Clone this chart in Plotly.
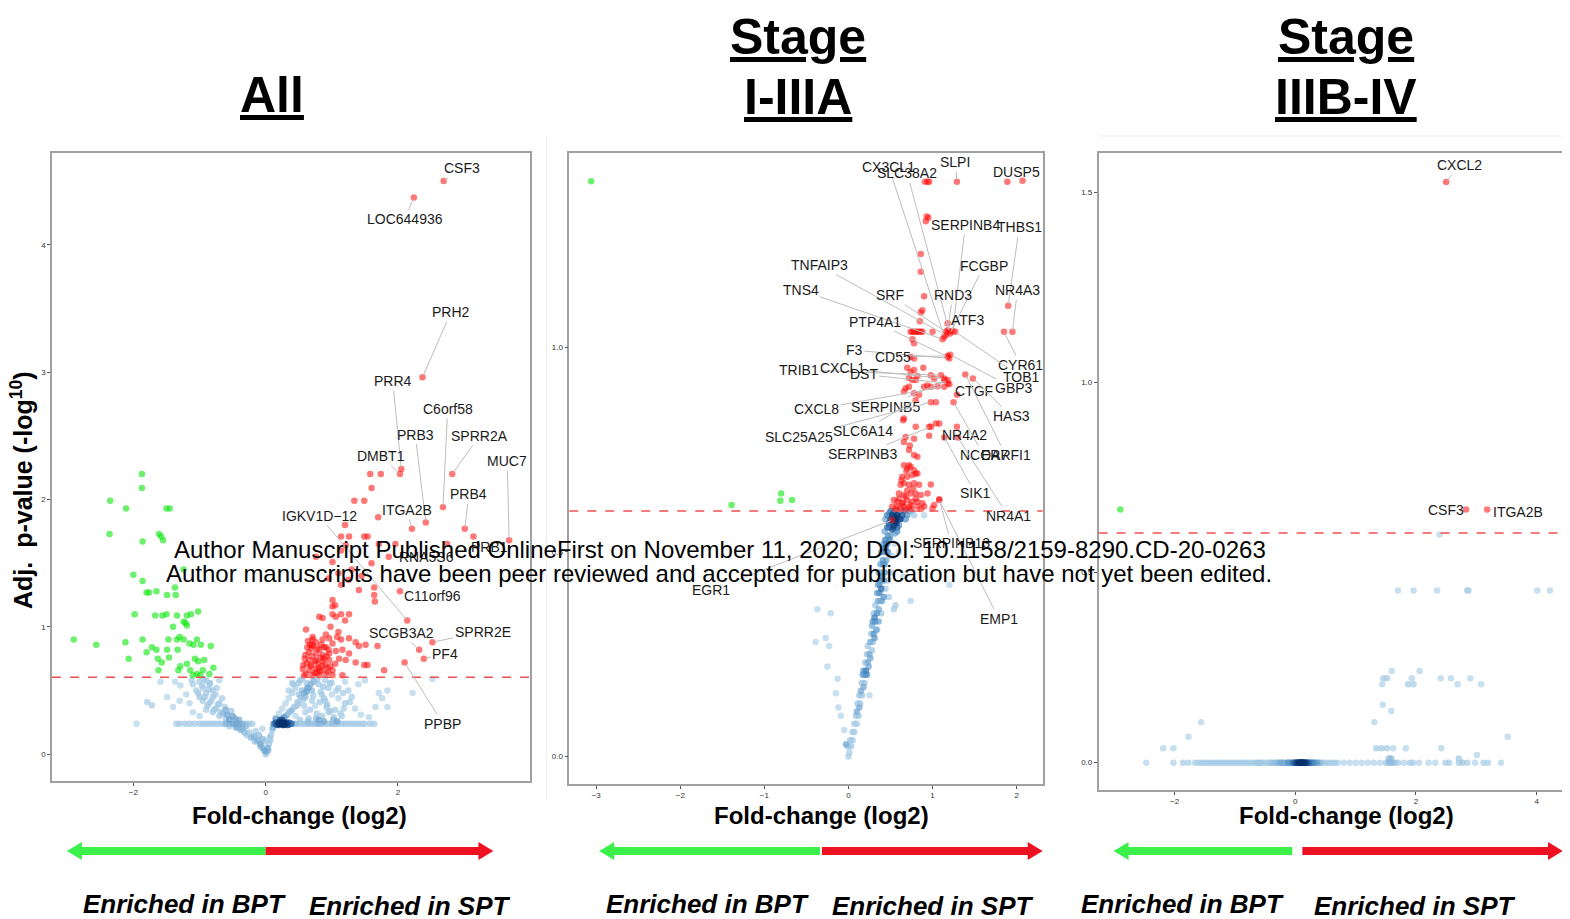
import numpy as np
import plotly.graph_objects as go

# page body has an 8px margin: the figure is shifted by that much
OFF = 8
W, H = 1570 - OFF, 919 - OFF

# ===================== DATA =====================
# ---- Panel 1: All ----
p1_threshold = 0.605
p1_green_x = [-1.87,-1.87,-2.35,-2.11,-1.50,-1.45,-2.36,-1.86,-1.61,-1.58,-1.55,-2.00,-1.86,-1.24,-1.80,-1.76,-1.65,-1.49,-1.36,-1.37,
              -1.98,-1.67,-1.56,-1.50,-1.34,-1.19,-1.13,-1.02,-1.24,-1.21,-1.19,-1.40,-2.90,-2.56,-2.12,-1.86,-2.07,-1.80,-1.72,-1.65,
              -1.63,-1.47,-1.34,-1.30,-1.24,-1.15,-1.09,-1.04,-0.98,-0.83,-1.49,-1.33,-1.46,-1.57,-1.62,-1.29,-1.19,-1.07,-1.02,-0.93,
              -1.32,-1.14,-1.04,-0.95,-0.79,-0.85,-1.10,-0.99]
p1_green_y = [2.20,2.09,1.99,1.93,1.93,1.93,1.73,1.67,1.73,1.71,1.68,1.41,1.36,1.45,1.27,1.27,1.28,1.25,1.25,1.31,
              1.10,1.09,1.09,1.10,1.09,1.09,1.10,1.12,1.04,1.03,1.01,1.00,0.90,0.86,0.88,0.90,0.75,0.80,0.84,0.82,
              0.75,0.90,0.90,0.92,0.90,0.87,0.86,0.90,0.86,0.85,0.82,0.82,0.76,0.72,0.66,0.69,0.71,0.75,0.73,0.74,
              0.66,0.66,0.63,0.66,0.68,0.63,0.62,0.62]
p1_red_x = [1.58,1.74,1.60,1.34,1.49,1.70,1.20,1.14,1.26,1.49,1.54,1.96,1.71,1.86,1.01,1.14,1.21,0.76,1.64,1.64,
            1.65,1.41,1.14,1.01,1.01,1.05,0.81,0.86,1.01,1.06,1.14,1.26,1.20,0.61,0.71,0.76,0.86,0.96,1.01,1.14,
            1.26,1.36,1.41,1.51,1.69,0.69,0.81,0.91,0.84,0.76,0.96,1.06,1.16,1.26,0.59,0.66,0.76,0.86,0.96,1.11,
            1.21,1.36,1.49,1.54,0.56,0.66,0.76,0.84,0.94,1.01,0.61,0.71,0.81,0.91,1.01,1.16,1.79,0.79,0.69,0.86,
            0.91,0.71,1.30,1.45,1.60,1.10,0.95,1.25,0.65,0.90,0.70,0.80,0.98,0.62,0.74,0.88,0.92,1.05,0.58,0.67,
            1.08,0.98,1.10,0.72,0.83,0.64,0.78,0.93,0.60,0.68,0.75,0.82,0.88,0.95,0.57,0.63,0.70,0.77,0.85]
p1_red_y = [2.20,2.20,2.09,1.99,1.99,1.86,1.80,1.71,1.71,1.71,1.71,1.65,1.65,1.55,1.51,1.60,1.64,1.55,1.31,1.25,
            1.20,1.29,1.33,1.21,1.16,1.17,1.08,1.07,1.10,1.08,1.10,1.10,1.05,0.98,0.90,0.88,0.90,0.91,0.87,0.90,
            0.91,0.88,0.85,0.86,0.85,0.83,0.82,0.84,0.86,0.79,0.79,0.81,0.82,0.79,0.75,0.74,0.74,0.73,0.74,0.75,
            0.74,0.72,0.70,0.70,0.67,0.66,0.67,0.66,0.65,0.66,0.63,0.62,0.62,0.63,0.62,0.62,0.66,0.71,0.70,0.78,
            0.94,0.92,1.45,1.40,1.50,1.42,1.38,1.37,0.80,0.70,0.77,0.68,0.69,0.71,0.64,0.84,0.77,0.71,0.62,0.86,
            0.92,1.00,0.96,0.85,0.76,0.89,0.83,0.68,0.78,0.69,0.73,0.65,0.75,0.82,0.70,0.84,0.86,0.64,0.69]
p1_blue_x = [-1.95,-1.35,-1.30,-1.22,-1.15,-1.08,-1.00,-0.95,-0.90,-0.85,-0.80,-0.75,-0.70,-0.65,-0.60,-0.55,-0.50,-0.45,-0.40,-0.35,
             -0.30,-0.25,-0.20,0.12,0.15,0.18,0.20,0.22,0.25,0.28,0.30,0.32,0.35,0.38,0.40,0.45,0.50,0.55,0.60,0.65,
             0.70,0.75,0.80,0.85,0.90,0.95,1.00,1.05,1.10,1.15,1.20,1.25,1.30,1.35,1.40,1.45,1.50,1.58,1.64,
             0.15,0.20,0.25,0.30,0.35,0.20,0.28,0.33,0.18,0.24,0.38,0.22,0.27,0.31,0.17,0.26,0.34,0.21,0.29,0.23,
             0.00,0.01,-0.02,0.03,-0.05,-0.08,0.05,-0.12,0.07,-0.02,-0.18,0.08,-0.10,-0.25,-0.15,0.10,-0.35,-0.45,-0.55,-0.30,0.11,-0.05,
             -0.60,-0.70,-0.80,-0.65,-0.55,-0.90,-0.75,-0.85,-0.95,-0.70,-0.60,-1.00,-0.90,-0.80,-1.05,-0.95,-0.85,-1.00,-0.90,-0.80,
             -1.10,-1.20,-1.15,-1.30,-0.50,-0.45,-1.12,-1.29,-1.37,-1.49,-1.59,-1.72,-1.79,-1.40,-1.00,-1.10,
             0.15,0.20,0.25,0.30,0.35,0.40,0.45,0.50,0.55,0.30,0.40,0.50,0.60,0.70,0.80,0.90,0.45,0.60,0.75,0.90,
             1.00,1.10,1.20,0.65,0.85,1.05,1.20,1.30,1.40,1.50,0.62,0.72,0.35,0.40,0.55,0.65,1.00,1.10,1.25,1.44,
             1.56,1.66,1.84,1.71,1.76,1.84,2.22,2.52,0.80,0.95,1.15,0.25,0.35,0.50,0.58,0.70,0.85,0.95,1.35,
             -0.40,-0.48,-0.58,-0.68,-0.78,-0.88,-0.52,-0.62,-0.72,-0.82,-0.92,-1.02,-0.66,-0.76,-0.86,-0.96,-0.74,-0.84,-0.94,-0.70,
             -0.32,-0.38,-0.22,-0.28,-0.42,-0.16,-0.08,-0.04,0.04,0.06,
             0.22,0.28,0.33,0.38,0.43,0.48,0.53,0.58,0.63,0.68,0.73,0.78,0.83,0.88,0.93,0.98,1.03,1.08,1.13,1.18,
             0.42,0.52,0.62,0.72,0.82,0.92,0.47,0.57,0.67,0.77,0.87,0.97,1.07,1.17,1.27,0.52,0.64,0.76,0.88,1.02]
p1_blue_y = [0.24,0.24,0.24,0.24,0.24,0.24,0.24,0.24,0.24,0.24,0.24,0.24,0.24,0.24,0.24,0.24,0.24,0.24,0.24,0.24,
             0.24,0.24,0.24,0.24,0.24,0.24,0.24,0.24,0.24,0.24,0.24,0.24,0.24,0.24,0.24,0.24,0.24,0.24,0.24,0.24,
             0.24,0.24,0.24,0.24,0.24,0.24,0.24,0.24,0.24,0.24,0.24,0.24,0.24,0.24,0.24,0.24,0.24,0.24,0.24,
             0.25,0.25,0.25,0.24,0.25,0.23,0.23,0.23,0.24,0.24,0.24,0.25,0.25,0.25,0.23,0.23,0.23,0.24,0.24,0.24,
             0.00,0.02,0.03,0.05,0.05,0.08,0.08,0.11,0.11,0.10,0.14,0.15,0.15,0.17,0.18,0.19,0.20,0.21,0.22,0.22,0.21,0.20,
             0.28,0.30,0.33,0.32,0.27,0.35,0.36,0.40,0.42,0.40,0.35,0.45,0.48,0.45,0.50,0.52,0.55,0.57,0.58,0.50,
             0.55,0.47,0.40,0.42,0.30,0.27,0.58,0.54,0.57,0.45,0.57,0.385,0.41,0.37,0.30,0.33,
             0.28,0.32,0.36,0.40,0.44,0.48,0.52,0.56,0.59,0.30,0.35,0.40,0.45,0.50,0.55,0.58,0.30,0.33,0.38,0.42,
             0.47,0.52,0.57,0.28,0.30,0.35,0.40,0.45,0.55,0.58,0.56,0.58,0.50,0.56,0.50,0.52,0.56,0.44,0.50,0.31,
             0.29,0.37,0.37,0.48,0.44,0.50,0.48,0.59,0.27,0.33,0.30,0.27,0.33,0.47,0.38,0.42,0.47,0.52,0.36,
             0.27,0.29,0.31,0.33,0.35,0.38,0.34,0.37,0.39,0.42,0.45,0.48,0.44,0.47,0.51,0.54,0.52,0.56,0.59,0.58,
             0.17,0.19,0.13,0.15,0.21,0.10,0.06,0.12,0.03,0.13,
             0.27,0.29,0.31,0.34,0.37,0.41,0.45,0.48,0.52,0.55,0.57,0.59,0.49,0.44,0.39,0.34,0.29,0.26,0.32,0.36,
             0.55,0.58,0.49,0.46,0.41,0.37,0.38,0.43,0.35,0.32,0.53,0.56,0.50,0.48,0.41,0.27,0.26,0.28,0.26,0.27]
p1_genes = ["CSF3","LOC644936","PRH2","PRR4","C6orf58","PRB3","SPRR2A","DMBT1","MUC7","PRB4","ITGA2B",
            "IGKV1D\u221212","PRB1","RNA5S6","C11orf96","SCGB3A2","SPRR2E","PF4","PPBP"]
p1_gene_x = [2.69,2.24,2.37,2.05,2.68,2.42,2.82,2.03,3.68,3.01,2.21,2.14,3.14,2.74,2.03,2.32,2.52,2.39,2.10]
p1_gene_y = [4.50,4.37,2.96,2.24,1.94,1.82,2.20,2.20,1.68,1.77,1.77,1.05,1.71,1.65,1.28,0.82,0.88,0.75,0.72]
p1_label_x = [2.97,2.10,2.80,1.92,2.75,2.26,3.23,1.74,3.65,3.07,2.13,0.81,3.38,2.43,2.52,2.05,3.28,2.71,2.68]
p1_label_y = [4.60,4.20,3.47,2.93,2.71,2.51,2.50,2.34,2.30,2.04,1.92,1.87,1.63,1.55,1.24,0.95,0.96,0.79,0.24]

# ---- Panel 2: Stage I-IIIA ----
p2_threshold = 0.60
p2_green_x = [-3.06,-1.39,-0.80,-0.81,-0.67]
p2_green_y = [1.406,0.615,0.643,0.625,0.627]
p2_red_x = [0.91,0.94,0.96,1.89,0.93,0.95,0.92,0.86,0.86,0.90,0.88,0.86,0.85,
            0.74,0.76,0.78,0.80,0.82,0.84,0.86,0.88,1.00,0.76,0.78,0.74,0.78,
            0.70,0.74,0.78,0.82,0.72,0.76,0.80,0.89,0.98,1.02,1.14,1.20,0.94,0.90,0.98,1.06,
            0.68,0.72,0.66,0.78,0.84,1.04,0.66,0.65,0.80,0.96,1.04,1.08,0.96,
            0.68,0.66,0.72,0.78,0.72,0.78,0.82,0.66,0.70,0.74,0.78,0.80,
            0.64,0.70,0.76,0.82,0.62,0.66,0.72,0.78,0.84,0.98,0.60,0.66,0.74,0.80,0.86,0.94,
            0.54,0.58,0.64,0.70,0.76,0.82,0.88,0.52,0.58,0.66,0.74,0.82,0.90,1.00,1.02,
            0.56,0.62,0.68,0.72,0.60,0.68,0.75,0.86,0.65,0.80,0.70,0.77,0.63,0.69,0.73]
p2_red_y = [1.405,1.405,1.405,1.405,1.320,1.317,1.308,1.228,1.185,1.125,1.091,1.085,1.064,
            1.038,1.038,1.038,1.038,1.038,1.038,1.038,1.038,1.038,1.020,1.010,0.977,0.973,
            0.950,0.940,0.945,0.930,0.925,0.920,0.920,0.950,0.932,0.924,0.920,0.910,0.907,0.904,0.904,0.905,
            0.900,0.904,0.892,0.888,0.884,0.866,0.826,0.822,0.806,0.806,0.814,0.814,0.784,
            0.781,0.769,0.749,0.777,0.712,0.737,0.733,0.712,0.704,0.708,0.700,0.692,
            0.684,0.684,0.688,0.692,0.664,0.668,0.664,0.668,0.664,0.665,0.643,0.639,0.643,0.643,0.639,0.643,
            0.627,0.623,0.619,0.627,0.623,0.623,0.619,0.611,0.612,0.611,0.615,0.611,0.611,0.607,0.615,
            0.605,0.606,0.604,0.610,0.630,0.635,0.605,0.605,0.620,0.630,0.650,0.655,0.675,0.698,0.760]
p2_blue_x = [0.00,0.01,-0.01,0.03,0.02,0.05,0.05,0.07,0.07,0.10,0.09,0.12,0.10,0.13,0.11,0.14,0.13,0.16,0.15,0.18,
             0.16,0.19,0.17,0.20,0.22,0.18,0.21,0.24,0.20,0.23,0.26,0.22,0.25,0.28,0.23,0.26,0.29,0.31,0.27,0.30,
             0.34,0.28,0.32,0.36,0.30,0.34,0.36,0.39,0.32,0.35,0.38,0.42,0.34,0.36,0.39,0.44,0.35,0.38,0.42,0.47,
             0.36,0.39,0.43,0.50,0.38,0.41,0.45,0.39,0.42,0.47,0.52,0.42,0.44,0.49,0.55,0.43,0.48,0.53,0.58,0.44,
             0.50,0.56,0.62,0.68,0.46,0.52,0.58,0.64,0.70,0.78,0.90,0.50,0.56,0.62,0.68,0.74,
             0.48,0.51,0.54,0.57,0.60,0.53,0.55,0.59,0.47,0.52,0.56,0.61,0.49,0.54,0.58,0.46,0.45,0.50,0.41,0.44,
             -0.37,-0.21,-0.39,-0.27,-0.23,-0.25,-0.13,-0.15,-0.12,-0.09,-0.05,-0.03,0.74,0.54,0.56,0.48,1.20,0.65,0.60,0.25,
             0.31,0.33,0.37,0.29,0.40,0.45,0.43,0.46,0.40,0.37]
p2_blue_y = [0.000,0.010,0.025,0.025,0.040,0.040,0.060,0.060,0.080,0.080,0.100,0.100,0.110,0.120,0.130,0.130,0.150,0.150,0.160,0.170,
             0.180,0.180,0.200,0.200,0.200,0.210,0.210,0.220,0.230,0.230,0.240,0.250,0.250,0.260,0.270,0.280,0.280,0.290,0.300,0.300,
             0.310,0.320,0.330,0.330,0.350,0.350,0.360,0.350,0.370,0.380,0.380,0.390,0.400,0.400,0.410,0.410,0.420,0.430,0.430,0.430,
             0.450,0.450,0.450,0.450,0.470,0.470,0.480,0.500,0.500,0.500,0.490,0.520,0.530,0.530,0.520,0.550,0.560,0.560,0.560,0.580,
             0.580,0.580,0.580,0.580,0.590,0.590,0.590,0.590,0.590,0.590,0.590,0.600,0.600,0.600,0.600,0.600,
             0.570,0.575,0.585,0.570,0.565,0.595,0.545,0.585,0.540,0.555,0.575,0.580,0.595,0.565,0.550,0.560,0.520,0.540,0.480,0.510,
             0.360,0.350,0.280,0.290,0.270,0.220,0.190,0.155,0.120,0.100,0.065,0.030,0.380,0.360,0.370,0.390,0.420,0.440,0.500,0.150,
             0.340,0.310,0.400,0.330,0.440,0.500,0.470,0.520,0.380,0.420]
p2_genes = ["CX3CL1","SLC38A2","SLPI","DUSP5","SERPINB4","THBS1","FCGBP","TNFAIP3","TNS4","SRF","RND3","NR4A3",
            "ATF3","PTP4A1","F3","CD55","CYR61","TOB1","GBP3","CTGF","HAS3","TRIB1","CXCL1","DST","CXCL8","SERPINB5",
            "SLC25A25","SLC6A14","SERPINB3","NR4A2","NCOA7","ERRFI1","SIK1","NR4A1","SERPINB13","EGR1","EMP1"]
p2_gene_x = [1.14,1.20,1.29,2.07,1.24,1.90,1.21,1.16,1.12,1.16,1.18,1.95,1.18,1.18,1.20,1.18,1.85,1.27,1.21,1.29,1.48,
             1.10,1.14,1.18,1.14,1.18,0.98,0.80,0.98,1.29,1.25,1.39,1.14,1.30,1.08,0.52,1.08]
p2_gene_y = [1.026,1.038,1.405,1.407,1.040,1.102,1.034,1.030,1.020,1.038,1.042,1.038,1.059,0.977,0.973,0.979,1.038,1.038,
             0.982,0.884,0.924,0.932,0.924,0.912,0.904,0.920,0.866,0.871,0.806,0.806,0.866,0.934,0.780,0.780,0.629,0.578,0.627]
p2_label_x = [0.48,0.70,1.27,2.00,1.39,2.03,1.61,-0.35,-0.57,0.50,1.24,2.01,1.41,0.31,0.07,0.53,2.05,2.06,1.97,1.49,1.94,
              -0.59,-0.07,0.18,-0.38,0.44,-0.59,0.17,0.17,1.38,1.61,1.87,1.51,1.90,1.22,-1.63,1.79]
p2_label_y = [1.441,1.425,1.453,1.429,1.299,1.293,1.199,1.201,1.140,1.128,1.128,1.140,1.068,1.063,0.993,0.977,0.957,0.927,
              0.900,0.894,0.832,0.945,0.949,0.934,0.849,0.855,0.780,0.796,0.739,0.786,0.737,0.737,0.643,0.588,0.521,0.407,0.336]

# ---- Panel 3: Stage IIIB-IV ----
p3_threshold = 0.604
p3_green_x = [-2.90]
p3_green_y = [0.666]
p3_blue_x = [-2.47,-2.02,-1.86,-1.77,-1.66,-1.60,-1.55,-1.50,-1.45,-1.40,-1.35,-1.30,-1.25,-1.20,-1.15,-1.10,-1.05,-1.00,-0.95,-0.90,
             -0.85,-0.80,-0.75,-0.70,-0.65,-0.60,-0.55,-0.50,-0.45,-0.40,-0.35,-0.30,-0.25,-0.20,-0.15,-0.10,-0.05,0.00,0.05,0.10,
             0.15,0.20,0.25,0.30,0.35,0.40,0.45,0.50,0.55,0.60,0.65,0.70,0.80,0.90,1.00,1.10,1.20,1.30,1.40,1.50,
             1.55,1.60,1.65,1.70,1.80,1.90,1.95,2.05,2.21,2.32,2.49,2.55,2.71,2.77,2.85,2.98,3.12,3.19,3.41,
             -0.30,-0.20,-0.10,-0.05,0.00,0.02,0.05,0.08,0.10,0.12,0.15,0.18,0.20,0.25,0.30,0.05,0.10,0.12,0.08,0.14,
             -0.02,0.03,0.07,0.11,0.16,0.22,-0.12,0.28,0.35,-0.40,0.40,-0.60,-0.25,0.09,0.13,
             1.70,1.96,2.35,2.85,2.87,4.01,4.22,1.60,2.06,1.46,1.52,1.93,2.41,2.58,2.90,1.44,1.87,1.96,2.69,3.08,
             1.45,1.59,1.31,-1.56,-1.77,3.52,-2.19,-2.02,1.34,1.43,1.52,1.62,1.83,2.42,3.01,1.55,1.59,2.71,2.39]
p3_blue_y = [0.0]*79 + [0.0]*35 + \
            [0.453,0.453,0.453,0.453,0.453,0.453,0.453,0.241,0.241,0.222,0.222,0.222,0.222,0.222,0.222,0.206,0.206,0.206,0.206,0.206,
             0.152,0.136,0.106,0.106,0.068,0.068,0.038,0.038,0.038,0.038,0.038,0.038,0.038,0.038,0.020,0.011,0.011,0.011,0.600]
p3_genes = ["CXCL2","CSF3","ITGA2B"]
p3_gene_x = [2.50,2.83,3.18]
p3_gene_y = [1.528,0.666,0.666]
p3_label_x = [2.72,2.49,3.69]
p3_label_y = [1.572,0.666,0.660]

# ===================== FIGURE =====================
def px(x):
    return (x - OFF) / W

def py(y):
    return 1 - (y - OFF) / H

panels = [
    dict(dom_x=(52, 531), dom_y=(153, 781), xr=[-3.23, 4.0], yr=[-0.21, 4.72],
         xt=[-2, 0, 2], yt=[0, 1, 2, 3, 4], yfmt="d", sx=66.25, sy=127.25),
    dict(dom_x=(570, 1044), dom_y=(153, 784), xr=[-3.32, 2.31], yr=[-0.067, 1.475],
         xt=[-3, -2, -1, 0, 1, 2], yt=[0, 0.5, 1.0], yfmt=".1f", sx=84.2, sy=409.4),
    dict(dom_x=(1100, 1570), dom_y=(153, 790), xr=[-3.26, 4.52], yr=[-0.072, 1.604],
         xt=[-2, 0, 2, 4], yt=[0, 0.5, 1.0, 1.5], yfmt=".1f", sx=60.4, sy=380.0),
]

fig = go.Figure()
layout = dict(width=W, height=H, margin=dict(l=0, r=0, t=0, b=0),
              paper_bgcolor="white", plot_bgcolor="white", showlegend=False)

for i, p in enumerate(panels, start=1):
    xa = "xaxis" if i == 1 else f"xaxis{i}"
    ya = "yaxis" if i == 1 else f"yaxis{i}"
    axcommon = dict(showgrid=False, zeroline=False, showline=True, mirror=True,
                    linecolor="#a0a0a0", linewidth=1.5, ticks="outside", ticklen=3,
                    tickcolor="#555", tickfont=dict(size=8, color="#333", family="Liberation Sans"))
    layout[xa] = dict(domain=[max(0, px(p["dom_x"][0])), min(1, px(p["dom_x"][1]))], range=p["xr"],
                      tickvals=p["xt"], anchor=f"y{i}" if i > 1 else "y", **axcommon)
    layout[ya] = dict(domain=[py(p["dom_y"][1]), py(p["dom_y"][0])], range=p["yr"],
                      tickvals=p["yt"], tickformat=p["yfmt"], anchor=f"x{i}" if i > 1 else "x", **axcommon)


def density(xs, ys, sx, sy, r=6.0):
    a = np.array(xs) * sx
    b = np.array(ys) * sy
    d = np.hypot(a[:, None] - a[None, :], b[:, None] - b[None, :])
    return (d < r).sum(axis=1)


blues = [[0, "#b4d4ea"], [0.45, "#9fc6e3"], [0.7, "#4f8fc6"], [0.88, "#1f5a9c"], [1, "#08306b"]]
green_c = "rgba(20,230,20,0.62)"
red_c = "rgba(255,10,10,0.55)"

data_sets = [
    (p1_blue_x, p1_blue_y, p1_green_x, p1_green_y, p1_red_x + p1_gene_x, p1_red_y + p1_gene_y),
    (p2_blue_x, p2_blue_y, p2_green_x, p2_green_y, p2_red_x + p2_gene_x, p2_red_y + p2_gene_y),
    (p3_blue_x, p3_blue_y, p3_green_x, p3_green_y, p3_gene_x, p3_gene_y),
]

for i, (bx, by, gx, gy, rx, ry) in enumerate(data_sets, start=1):
    p = panels[i - 1]
    xr = "x" if i == 1 else f"x{i}"
    yr = "y" if i == 1 else f"y{i}"
    dens = density(bx, by, p["sx"], p["sy"])
    order = np.argsort(dens)
    cval = np.log(dens[order])
    fig.add_trace(go.Scatter(x=np.array(bx)[order], y=np.array(by)[order], mode="markers", xaxis=xr, yaxis=yr,
                             marker=dict(size=6.5, color=cval, colorscale=blues, cmin=0, cmax=float(cval.max()),
                                         opacity=0.75, line=dict(width=0)), hoverinfo="skip"))
    fig.add_trace(go.Scatter(x=gx, y=gy, mode="markers", xaxis=xr, yaxis=yr,
                             marker=dict(size=6.5, color=green_c, line=dict(width=0))))
    fig.add_trace(go.Scatter(x=rx, y=ry, mode="markers", xaxis=xr, yaxis=yr,
                             marker=dict(size=6.5, color=red_c, line=dict(width=0))))

shapes = []
annotations = []

# threshold lines
for i, th in enumerate([p1_threshold, p2_threshold, p3_threshold], start=1):
    xr = "x" if i == 1 else f"x{i}"
    yr = "y" if i == 1 else f"y{i}"
    shapes.append(dict(type="line", xref=f"{xr} domain", yref=yr, x0=0, x1=1, y0=th, y1=th,
                       line=dict(color="#ef5050", width=1.5, dash="dash"), layer="above"))

# gene labels
label_sets = [
    (p1_genes, p1_gene_x, p1_gene_y, p1_label_x, p1_label_y),
    (p2_genes, p2_gene_x, p2_gene_y, p2_label_x, p2_label_y),
    (p3_genes, p3_gene_x, p3_gene_y, p3_label_x, p3_label_y),
]
for i, (gn, gx, gy, lx, ly) in enumerate(label_sets, start=1):
    xr = "x" if i == 1 else f"x{i}"
    yr = "y" if i == 1 else f"y{i}"
    for n, a, b, c, d in zip(gn, gx, gy, lx, ly):
        annotations.append(dict(text=n, x=a, y=b, ax=c, ay=d, xref=xr, yref=yr, axref=xr, ayref=yr,
                                showarrow=True, arrowhead=0, arrowwidth=1, arrowcolor="#bdbdbd",
                                standoff=2, font=dict(size=14, color="#1a1a1a", family="Liberation Sans")))

# titles
title_font = dict(family="Liberation Sans Narrow, Arial Narrow, Liberation Sans", size=50, color="black")
annotations.append(dict(text="<b><u>All</u></b>", x=px(272), y=py(95), xref="paper", yref="paper",
                        showarrow=False, font=title_font, xanchor="center", yanchor="middle"))
for cx, t in [(799, "I-IIIA"), (1348, "IIIB-IV")]:
    annotations.append(dict(text="<b><u>Stage</u></b>", x=px(cx), y=py(37), xref="paper", yref="paper",
                            showarrow=False, font=title_font, xanchor="center", yanchor="middle"))
    annotations.append(dict(text=f"<b><u>{t}</u></b>", x=px(cx), y=py(97), xref="paper", yref="paper",
                            showarrow=False, font=title_font, xanchor="center", yanchor="middle"))

# y-axis title
annotations.append(dict(text="<b>Adj.  p-value (-log<sup>10</sup>)</b>", x=px(22), y=py(490), xref="paper", yref="paper",
                        showarrow=False, textangle=-90, xanchor="center", yanchor="middle",
                        font=dict(family="Liberation Sans", size=25, color="black")))

# x-axis titles and enrichment labels
sub_font = dict(family="Liberation Sans Narrow, Arial Narrow, Liberation Sans", size=24, color="black")
for cx in [300, 823, 1348]:
    annotations.append(dict(text="<b>Fold-change (log2)</b>", x=px(cx), y=py(815), xref="paper", yref="paper",
                            showarrow=False, font=sub_font, xanchor="center", yanchor="middle"))
for cx in [185, 708, 1184]:
    annotations.append(dict(text="<b><i>Enriched in BPT</i></b>", x=px(cx), y=py(904), xref="paper", yref="paper",
                            showarrow=False, font=dict(sub_font, size=26), xanchor="center", yanchor="middle"))
for cx in [410, 934, 1416]:
    annotations.append(dict(text="<b><i>Enriched in SPT</i></b>", x=px(cx), y=py(906), xref="paper", yref="paper",
                            showarrow=False, font=dict(sub_font, size=26), xanchor="center", yanchor="middle"))

# arrows
def arrow_left(x_tip, x_end, yc, color):
    hl, hh, th = 15, 9, 4
    path = (f"M {px(x_tip)},{py(yc)} L {px(x_tip + hl)},{py(yc - hh)} L {px(x_tip + hl)},{py(yc - th)} "
            f"L {px(x_end)},{py(yc - th)} L {px(x_end)},{py(yc + th)} L {px(x_tip + hl)},{py(yc + th)} "
            f"L {px(x_tip + hl)},{py(yc + hh)} Z")
    return dict(type="path", xref="paper", yref="paper", path=path, fillcolor=color, line=dict(width=0))

def arrow_right(x_start, x_tip, yc, color):
    hl, hh, th = 15, 9, 4
    path = (f"M {px(x_tip)},{py(yc)} L {px(x_tip - hl)},{py(yc - hh)} L {px(x_tip - hl)},{py(yc - th)} "
            f"L {px(x_start)},{py(yc - th)} L {px(x_start)},{py(yc + th)} L {px(x_tip - hl)},{py(yc + th)} "
            f"L {px(x_tip - hl)},{py(yc + hh)} Z")
    return dict(type="path", xref="paper", yref="paper", path=path, fillcolor=color, line=dict(width=0))

GREEN_ARROW = "#3cf04a"
RED_ARROW = "#ee1122"
for gl, mid_g, mid_r, rr in [(67, 266, 266, 494), (600, 821, 823, 1044), (1115, 1294, 1304, 1565)]:
    shapes.append(arrow_left(gl, mid_g, 851, GREEN_ARROW))
    shapes.append(arrow_right(mid_r, rr, 851, RED_ARROW))

# faint separators
shapes.append(dict(type="line", xref="paper", yref="paper", x0=px(547), x1=px(547), y0=py(135), y1=py(800),
                   line=dict(color="#eeeeee", width=1)))
shapes.append(dict(type="line", xref="paper", yref="paper", x0=px(1100), x1=1, y0=py(136), y1=py(136),
                   line=dict(color="#eeeeee", width=1)))

# watermark
wm_font = dict(family="Liberation Sans", size=24, color="black")
annotations.append(dict(text="Author Manuscript Published OnlineFirst on November 11, 2020; DOI: 10.1158/2159-8290.CD-20-0263",
                        x=px(721), y=py(549), xref="paper", yref="paper", showarrow=False, font=wm_font,
                        xanchor="center", yanchor="middle"))
annotations.append(dict(text="Author manuscripts have been peer reviewed and accepted for publication but have not yet been edited.",
                        x=px(720), y=py(573), xref="paper", yref="paper", showarrow=False, font=wm_font,
                        xanchor="center", yanchor="middle"))

layout["shapes"] = shapes
layout["annotations"] = annotations
fig.update_layout(**layout)
fig.write_html("out.html")
